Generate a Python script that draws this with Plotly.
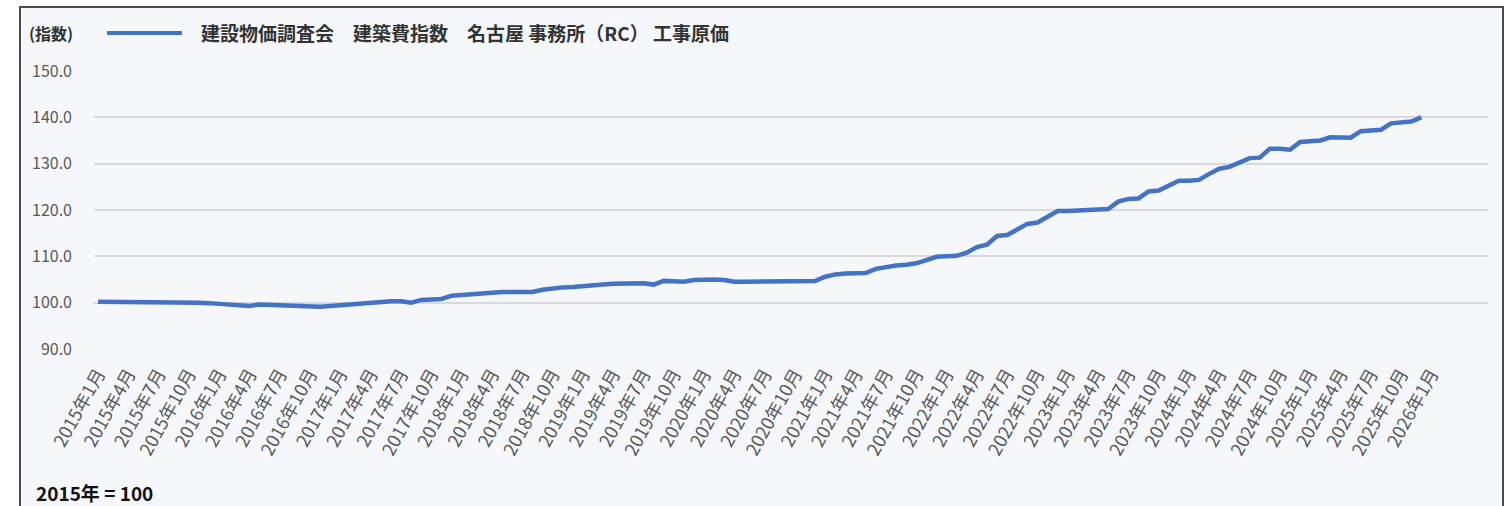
import plotly.graph_objects as go

# ---- data (monthly index, 2015 = 100) ----
v2015 = [100.2, 100.2, 100.1, 100.1, 100.1, 100.0, 100.1, 100.1, 100.0, 100.0, 100.0, 99.9]
v2016 = [99.7, 99.5, 99.3, 99.3, 99.6, 99.5, 99.4, 99.3, 99.2, 99.0, 99.1, 99.3]
v2017 = [99.5, 99.7, 99.8, 100.0, 100.2, 100.3, 100.3, 100.0, 100.6, 100.7, 100.8, 101.5]
v2018 = [101.7, 101.9, 102.1, 102.2, 102.3, 102.3, 102.4, 102.3, 102.8, 103.1, 103.3, 103.4]
v2019 = [103.5, 103.7, 103.9, 104.1, 104.2, 104.3, 104.2, 103.9, 104.7, 104.6, 104.5, 104.9]
v2020 = [105.0, 105.0, 104.9, 104.5, 104.5, 104.5, 104.6, 104.6, 104.7, 104.7, 104.7, 104.7]
v2021 = [105.6, 106.1, 106.3, 106.3, 106.4, 107.3, 107.7, 108.0, 108.2, 108.5, 109.2, 109.9]
v2022 = [110.0, 110.1, 110.8, 112.0, 112.5, 114.4, 114.6, 115.8, 117.0, 117.3, 118.6, 119.8]
v2023 = [119.8, 119.9, 120.2, 120.3, 120.2, 121.8, 122.4, 122.5, 124.0, 124.2, 125.2, 126.3]
v2024 = [126.3, 126.5, 127.8, 128.9, 129.3, 130.3, 131.2, 131.3, 133.2, 133.2, 133.0, 134.7]
v2025 = [134.9, 135.0, 135.7, 135.7, 135.6, 137.0, 137.1, 137.3, 138.7, 138.8, 139.1, 140.0]

values = v2015 + v2016 + v2017 + v2018 + v2019 + v2020 + v2021 + v2022 + v2023 + v2024 + v2025
start_year = 2015
month_idx = list(range(len(values)))

tick_idx = list(range(0, 133, 3))
tick_text = [f"{start_year + i // 12}年{i % 12 + 1}月" for i in tick_idx]

y_ticks = [90, 100, 110, 120, 130, 140, 150]
y_text = [f"{v:.1f}" for v in y_ticks]

series_name = "建設物価調査会　建築費指数　名古屋 事務所（RC） 工事原価"
y_title = "(指数)"
note = "2015年 = 100"

# ---- geometry (page pixels) ----
W, H = 1512, 506
L, R, T, B = 94, 1488, 71, 349
pw, ph = R - L, B - T


def px(x):
    return (x - L) / pw


def py(y):
    return 1 - (y - T) / ph


FONT = "Noto Sans CJK JP"
LINE_COLOR = "#4472C4"

fig = go.Figure()
fig.add_trace(go.Scatter(
    x=month_idx, y=values, mode="lines", name=series_name,
    line=dict(color=LINE_COLOR, width=4.5), showlegend=False,
    hovertemplate="%{y:.1f}<extra></extra>",
))

fig.update_layout(
    width=W, height=H,
    margin=dict(l=L, r=W - R, t=T, b=H - B, pad=0),
    paper_bgcolor="white",
    plot_bgcolor="rgba(0,0,0,0)",
    font=dict(family=FONT, color="#595959", size=16),
    xaxis=dict(
        range=[-0.4, 137.6], tickmode="array", tickvals=tick_idx, ticktext=tick_text,
        tickangle=-61, showgrid=False, zeroline=False, showline=False,
        ticks="", ticklabelstandoff=10,
        tickfont=dict(size=18, color="#595959"), fixedrange=True,
    ),
    yaxis=dict(
        range=[90, 150], tickmode="array", tickvals=y_ticks, ticktext=y_text,
        showgrid=True, gridcolor="#D9D9D9", gridwidth=1.5, zeroline=False,
        showline=False, ticks="", ticklabelstandoff=21,
        tickfont=dict(size=16, color="#595959"), fixedrange=True,
    ),
    shapes=[
        dict(type="rect", xref="paper", yref="paper", layer="below",
             x0=px(20), x1=px(1503), y0=py(530), y1=py(7),
             fillcolor="#F5F7FA", line=dict(color="#4A4A4A", width=2)),
        dict(type="line", xref="paper", yref="paper",
             x0=px(107), x1=px(182), y0=py(33), y1=py(33),
             line=dict(color=LINE_COLOR, width=4)),
    ],
    annotations=[
        dict(text=f"<b>{y_title}</b>", xref="paper", yref="paper", x=px(27), y=py(33),
             xanchor="left", yanchor="middle", showarrow=False,
             font=dict(size=16, color="#333333", family=FONT)),
        dict(text=f"<b>{series_name}</b>", xref="paper", yref="paper", x=px(199), y=py(33),
             xanchor="left", yanchor="middle", showarrow=False,
             font=dict(size=19, color="#333333", family=FONT)),
        dict(text=f"<b>{note}</b>", xref="paper", yref="paper", x=px(34), y=py(492),
             xanchor="left", yanchor="middle", showarrow=False,
             font=dict(size=19, color="#111111", family=FONT)),
    ],
)

fig.write_html(
    "out.html",
    config={"displayModeBar": False},
    post_script="document.body.style.margin='0';document.body.style.overflow='hidden';",
)
